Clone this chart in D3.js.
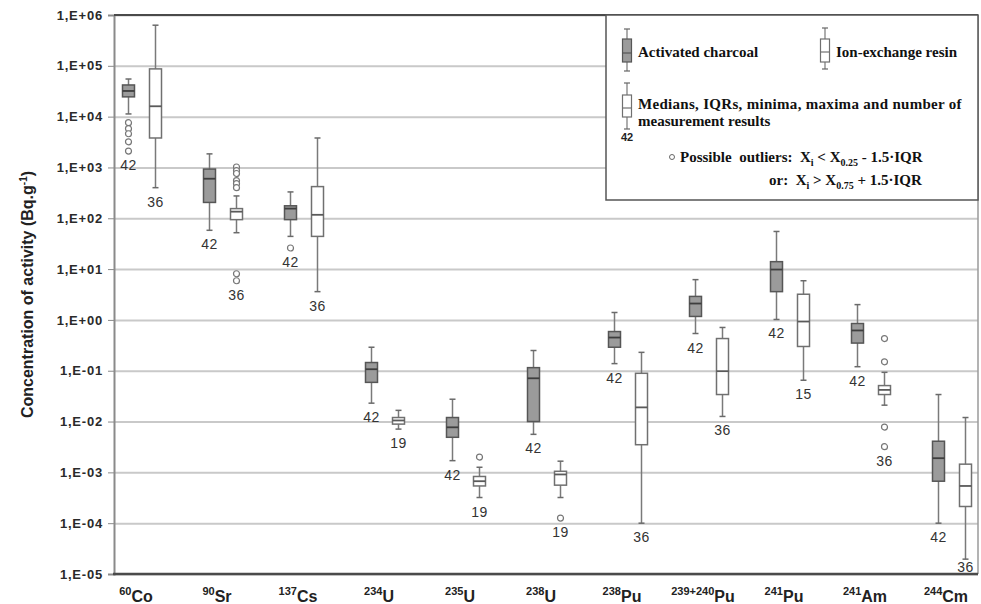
<!DOCTYPE html>
<html>
<head>
<meta charset="utf-8">
<script src="https://cdnjs.cloudflare.com/ajax/libs/d3/7.8.5/d3.min.js"></script>
<style>
  body { margin: 0; background: #fff; }
  svg { display: block; }
</style>
</head>
<body>
<div id="chart"></div>
<script>
// données (Bq/g)
const massNumbers = ['60', '90', '137', '234', '235', '238', '238', '239+240', '241', '241', '244'];
const elements    = ['Co', 'Sr', 'Cs', 'U', 'U', 'U', 'Pu', 'Pu', 'Pu', 'Am', 'Cm'];
const categories  = massNumbers.map((m, i) => m + elements[i]);

const tickValues = [1e-5, 1e-4, 1e-3, 1e-2, 1e-1, 1e0, 1e1, 1e2, 1e3, 1e4, 1e5, 1e6];
const tickLabels = ['1,E-05', '1,E-04', '1,E-03', '1,E-02', '1,E-01', '1,E+00',
                    '1,E+01', '1,E+02', '1,E+03', '1,E+04', '1,E+05', '1,E+06'];

// charbon actif
const charcoalMin    = [1.13e4, 58, 44, 0.023, 0.0017, 0.0056, 0.138, 0.54, 1.02, 0.12, 1e-4];
const charcoalQ1     = [2.45e4, 205, 94, 0.059, 0.0049, 0.010, 0.29, 1.17, 3.6, 0.35, 6.7e-4];
const charcoalMedian = [3.2e4, 600, 155, 0.107, 0.0077, 0.071, 0.45, 2.1, 9.8, 0.62, 1.9e-3];
const charcoalQ3     = [4.2e4, 930, 176, 0.145, 0.012, 0.115, 0.59, 2.9, 14, 0.85, 4.1e-3];
const charcoalMax    = [5.5e4, 1850, 330, 0.29, 0.0275, 0.25, 1.4, 6.2, 55, 2.0, 0.034];
const charcoalN      = [42, 42, 42, 42, 42, 42, 42, 42, 42, 42, 42];
const charcoalOutliers = [[7.6e3, 5.8e3, 4.6e3, 3.2e3, 2.1e3], [], [26], [], [], [], [], [], [], [], []];

// résine échangeuse d'ions
const resinMin    = [400, 52, 3.6, 0.0071, 3.2e-4, 3.2e-4, 1e-4, 0.0126, 0.065, 0.021, 1.96e-5];
const resinQ1     = [3.8e3, 94, 44, 0.0089, 5.4e-4, 5.6e-4, 3.5e-3, 0.034, 0.30, 0.034, 2.13e-4];
const resinMedian = [1.6e4, 135, 117, 0.0105, 6.7e-4, 9.1e-4, 0.019, 0.098, 0.93, 0.042, 5.4e-4];
const resinQ3     = [8.7e4, 155, 420, 0.012, 8.3e-4, 1.05e-3, 0.089, 0.43, 3.2, 0.051, 1.45e-3];
const resinMax    = [6.3e5, 275, 3.8e3, 0.0166, 1.26e-3, 1.66e-3, 0.23, 0.71, 5.9, 0.093, 0.012];
const resinN      = [36, 36, 36, 19, 19, 19, 36, 36, 15, 36, 36];
const resinOutliers = [[], [1020, 870, 760, 550, 480, 400, 8.1, 5.9], [], [], [2.0e-3], [1.26e-4], [], [], [], [0.43, 0.15, 0.0078, 0.0032], []];

const W = 981, H = 604;
const mLeft = 114, mRight = 978, mTop = 15, mBottom = 574;
const SANS = "'Liberation Sans', Arial, sans-serif";
const SERIF = "'Liberation Serif', 'Times New Roman', serif";

const svg = d3.select('#chart').append('svg').attr('width', W).attr('height', H);

const x = d3.scalePoint().domain(categories).range([142, 952]);
const y = d3.scaleLog().domain([1e-5, 1e6]).range([mBottom, mTop]);

// grille
svg.append('g')
  .attr('transform', `translate(${mLeft},0)`)
  .call(d3.axisLeft(y).tickValues(tickValues).tickSize(-(mRight - mLeft)).tickFormat(''))
  .call(g => g.select('.domain').remove())
  .call(g => g.selectAll('line').attr('stroke', '#c9c9c9').attr('stroke-width', 2));

// axe Y
const yAxis = svg.append('g')
  .attr('transform', `translate(${mLeft},0)`)
  .call(d3.axisLeft(y).tickValues(tickValues).tickSize(6).tickPadding(5)
    .tickFormat((d, i) => tickLabels[i]));
yAxis.select('.domain').attr('stroke', '#8a8a8a').attr('stroke-width', 2);
yAxis.selectAll('line').attr('stroke', '#8a8a8a').attr('stroke-width', 1);
yAxis.selectAll('text')
  .attr('fill', '#2a2a2a')
  .style('font-family', SANS)
  .style('font-size', '13px')
  .style('font-weight', 'bold')
  .style('letter-spacing', '0.8px');

// cadre
svg.append('line').attr('x1', mLeft).attr('x2', mRight).attr('y1', mTop).attr('y2', mTop)
  .attr('stroke', '#4a4a4a').attr('stroke-width', 2);
svg.append('line').attr('x1', mRight).attr('x2', mRight).attr('y1', mTop).attr('y2', mBottom)
  .attr('stroke', '#9a9a9a').attr('stroke-width', 1.5);
svg.append('line').attr('x1', mLeft - 1).attr('x2', mRight).attr('y1', mBottom).attr('y2', mBottom)
  .attr('stroke', '#4a4a4a').attr('stroke-width', 2.5);

// titre axe Y
svg.append('text')
  .attr('transform', `translate(33,${(mTop + mBottom) / 2}) rotate(-90)`)
  .attr('text-anchor', 'middle')
  .style('font-family', SANS).style('font-size', '16px').style('font-weight', 'bold')
  .attr('fill', '#222')
  .call(t => {
    t.append('tspan').text('Concentration of activity (Bq.g');
    t.append('tspan').attr('dy', -6).style('font-size', '10px').text('-1');
    t.append('tspan').attr('dy', 6).text(')');
  });

// étiquettes X
const xl = svg.append('g').selectAll('text').data(categories).join('text')
  .attr('x', d => x(d) - 6)
  .attr('y', 602)
  .attr('text-anchor', 'middle')
  .attr('fill', '#222')
  .style('font-family', SANS).style('font-weight', 'bold');
xl.append('tspan').attr('dy', -7).style('font-size', '11px').text((d, i) => massNumbers[i]);
xl.append('tspan').attr('dy', 7).style('font-size', '16px').text((d, i) => elements[i]);

// boîtes
const boxW = 12, capW = 6;
const series = [
  { off: -13.5, fill: '#9b9b9b', stroke: '#565656', med: '#3e3e3e',
    min: charcoalMin, q1: charcoalQ1, med_: charcoalMedian, q3: charcoalQ3, max: charcoalMax,
    n: charcoalN, out: charcoalOutliers },
  { off: 13.5, fill: '#ffffff', stroke: '#707070', med: '#5a5a5a',
    min: resinMin, q1: resinQ1, med_: resinMedian, q3: resinQ3, max: resinMax,
    n: resinN, out: resinOutliers }
];

series.forEach(s => {
  const rows = categories.map((c, i) => ({
    c, min: s.min[i], q1: s.q1[i], med: s.med_[i], q3: s.q3[i], max: s.max[i], n: s.n[i], out: s.out[i]
  }));
  const g = svg.append('g').selectAll('g').data(rows).join('g')
    .attr('transform', d => `translate(${x(d.c) + s.off},0)`);

  g.append('line').attr('x1', 0).attr('x2', 0)
    .attr('y1', d => y(d.max)).attr('y2', d => y(d.min))
    .attr('stroke', '#7a7a7a').attr('stroke-width', 1.5);
  g.append('line').attr('x1', -capW / 2).attr('x2', capW / 2)
    .attr('y1', d => y(d.max)).attr('y2', d => y(d.max))
    .attr('stroke', '#6a6a6a').attr('stroke-width', 1.5);
  g.append('line').attr('x1', -capW / 2).attr('x2', capW / 2)
    .attr('y1', d => y(d.min)).attr('y2', d => y(d.min))
    .attr('stroke', '#6a6a6a').attr('stroke-width', 1.5);
  g.append('rect')
    .attr('x', -boxW / 2).attr('width', boxW)
    .attr('y', d => y(d.q3)).attr('height', d => y(d.q1) - y(d.q3))
    .attr('fill', s.fill).attr('stroke', s.stroke).attr('stroke-width', 1.5);
  g.append('line').attr('x1', -boxW / 2).attr('x2', boxW / 2)
    .attr('y1', d => y(d.med)).attr('y2', d => y(d.med))
    .attr('stroke', s.med).attr('stroke-width', 1.8);

  g.selectAll('circle').data(d => d.out).join('circle')
    .attr('cx', 0).attr('cy', v => y(v)).attr('r', 3)
    .attr('fill', '#fff').attr('stroke', '#777').attr('stroke-width', 1.2);

  g.append('text')
    .attr('x', 0)
    .attr('y', d => Math.min(572, y(d3.min([d.min, ...d.out])) + 19))
    .attr('text-anchor', 'middle')
    .attr('fill', '#333')
    .style('font-family', SANS).style('font-size', '14px').style('letter-spacing', '0.5px')
    .text(d => d.n);
});

// légende
const lg = svg.append('g');
lg.append('rect').attr('x', 606).attr('y', 15).attr('width', 372).attr('height', 185)
  .attr('fill', '#fff').attr('stroke', '#555').attr('stroke-width', 1.5);

function legendBox(cx, y0, y1, b0, b1, m, fill, stroke) {
  lg.append('line').attr('x1', cx).attr('x2', cx).attr('y1', y0).attr('y2', y1)
    .attr('stroke', '#777').attr('stroke-width', 1.2);
  [y0, y1].forEach(v => lg.append('line').attr('x1', cx - 3).attr('x2', cx + 3)
    .attr('y1', v).attr('y2', v).attr('stroke', '#666').attr('stroke-width', 1.2));
  lg.append('rect').attr('x', cx - 4.5).attr('y', b0).attr('width', 9).attr('height', b1 - b0)
    .attr('fill', fill).attr('stroke', stroke).attr('stroke-width', 1.2);
  lg.append('line').attr('x1', cx - 4.5).attr('x2', cx + 4.5).attr('y1', m).attr('y2', m)
    .attr('stroke', stroke).attr('stroke-width', 1.2);
}
legendBox(627, 29, 71, 39, 62, 53, '#9b9b9b', '#565656');
legendBox(825, 28, 69, 39, 62, 52, '#fff', '#707070');
legendBox(627, 83, 129, 95, 117, 108, '#fff', '#707070');

const legText = (tx, ty, str) => lg.append('text').attr('x', tx).attr('y', ty)
  .attr('fill', '#111')
  .style('font-family', SERIF).style('font-size', '15px').style('font-weight', 'bold')
  .text(str);
legText(638, 57, 'Activated charcoal');
legText(836, 57, 'Ion-exchange resin');
legText(638, 109, 'Medians, IQRs, minima, maxima and number of').style('letter-spacing', '0.3px');
legText(638, 126, 'measurement results');

lg.append('text').attr('x', 627).attr('y', 141).attr('text-anchor', 'middle')
  .attr('fill', '#222')
  .style('font-family', SANS).style('font-size', '11px').style('font-weight', 'bold')
  .text('42');

lg.append('circle').attr('cx', 672).attr('cy', 157).attr('r', 2.5)
  .attr('fill', '#fff').attr('stroke', '#666').attr('stroke-width', 1);

const l1 = legText(680, 162, '');
l1.append('tspan').text('Possible\u00a0 outliers:\u00a0 X');
l1.append('tspan').attr('dy', 4).style('font-size', '10px').text('i');
l1.append('tspan').attr('dy', -4).text(' < X');
l1.append('tspan').attr('dy', 4).style('font-size', '10px').text('0.25');
l1.append('tspan').attr('dy', -4).text(' - 1.5·IQR');

const l2 = legText(769, 185, '');
l2.append('tspan').text('or:\u00a0 X');
l2.append('tspan').attr('dy', 4).style('font-size', '10px').text('i');
l2.append('tspan').attr('dy', -4).text(' > X');
l2.append('tspan').attr('dy', 4).style('font-size', '10px').text('0.75');
l2.append('tspan').attr('dy', -4).text(' + 1.5·IQR');
</script>
</body>
</html>
